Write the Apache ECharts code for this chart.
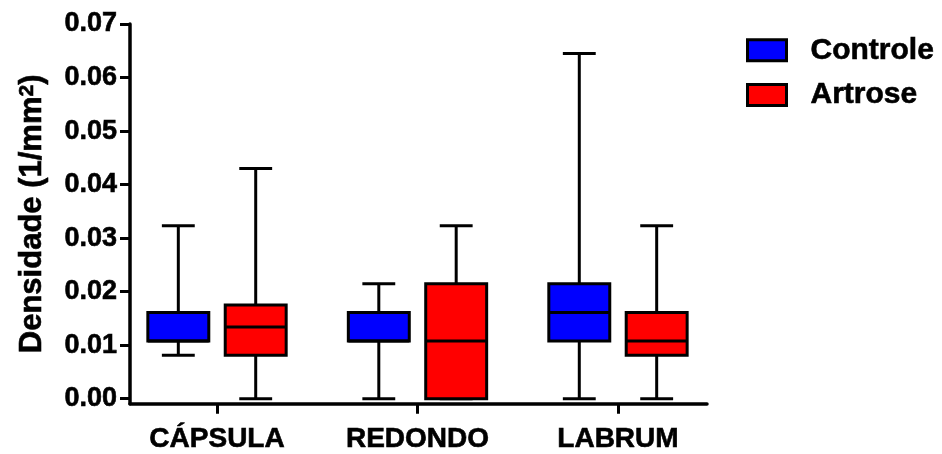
<!DOCTYPE html>
<html>
<head>
<meta charset="utf-8">
<script src="https://cdn.jsdelivr.net/npm/echarts@6/dist/echarts.min.js"></script>
<style>
html,body{margin:0;padding:0;background:#fff;}
#chart{width:942px;height:454px;}
</style>
</head>
<body>
<div id="chart"></div>
<script>
// ---- data ----
const categories = ['CÁPSULA', 'REDONDO', 'LABRUM'];
const seriesNames = ['Controle', 'Artrose'];
// each item: [min, Q1, median, Q3, max]
const controle = [
  [0.0081, 0.0108, 0.0108, 0.0161, 0.0323],
  [0.0000, 0.0108, 0.0108, 0.0161, 0.0215],
  [0.0000, 0.0108, 0.0161, 0.0215, 0.0645]
];
const artrose = [
  [0.0000, 0.0081, 0.0134, 0.0175, 0.0430],
  [0.0000, 0.0000, 0.0108, 0.0215, 0.0323],
  [0.0000, 0.0081, 0.0108, 0.0161, 0.0323]
];
const yTicks = [0, 0.01, 0.02, 0.03, 0.04, 0.05, 0.06, 0.07];
const xTicks = [0, 1, 2];

const FONT = '"Liberation Sans", Arial, Helvetica, sans-serif';
const colors = ['#0000ff', '#ff0000'];
const bold = { fontWeight: 'bold', color: '#000', fontFamily: FONT, textBorderColor: '#000', textBorderWidth: 0.6 };

function makeRender(side) {
  return function (params, api) {
    const xi = api.value(0);
    const unit = api.size([1, 0])[0];
    const cx = api.coord([xi, 0])[0] + side * 0.193 * unit;
    const half = 0.152 * unit;
    const cap = 0.082 * unit;
    const yMin = api.coord([xi, api.value(1)])[1];
    const yQ1 = api.coord([xi, api.value(2)])[1];
    const yMed = api.coord([xi, api.value(3)])[1];
    const yQ3 = api.coord([xi, api.value(4)])[1];
    const yMax = api.coord([xi, api.value(5)])[1];
    const ls = { stroke: '#000', lineWidth: 3, fill: null };
    return {
      type: 'group',
      children: [
        { type: 'line', shape: { x1: cx, y1: yQ3, x2: cx, y2: yMax }, style: ls },
        { type: 'line', shape: { x1: cx, y1: yQ1, x2: cx, y2: yMin }, style: ls },
        { type: 'line', shape: { x1: cx - cap, y1: yMax, x2: cx + cap, y2: yMax }, style: ls },
        { type: 'line', shape: { x1: cx - cap, y1: yMin, x2: cx + cap, y2: yMin }, style: ls },
        { type: 'rect', shape: { x: cx - half, y: yQ3, width: 2 * half, height: yQ1 - yQ3 },
          style: { fill: api.visual('color'), stroke: '#000', lineWidth: 3 } },
        { type: 'line', shape: { x1: cx - half, y1: yMed, x2: cx + half, y2: yMed }, style: ls }
      ]
    };
  };
}

function toData(arr) {
  return arr.map((v, i) => [i].concat(v));
}

const chart = echarts.init(document.getElementById('chart'), null, { renderer: 'canvas' });
chart.setOption({
  animation: false,
  backgroundColor: '#fff',
  grid: { left: 130, right: 235, top: 24, bottom: 49, containLabel: false },
  legend: {
    orient: 'vertical',
    left: 746,
    top: 35,
    padding: 0,
    icon: 'rect',
    itemWidth: 39,
    itemHeight: 21,
    itemGap: 14,
    selectedMode: false,
    textStyle: Object.assign({ fontSize: 30, lineHeight: 30, padding: [0, 0, 0, 19] }, bold),
    data: [
      { name: seriesNames[0], itemStyle: { color: colors[0], borderColor: '#000', borderWidth: 3 } },
      { name: seriesNames[1], itemStyle: { color: colors[1], borderColor: '#000', borderWidth: 3 } }
    ]
  },
  xAxis: {
    type: 'value',
    min: -0.434,
    max: 2.444,
    splitLine: { show: false },
    axisLine: { show: true, onZero: false, lineStyle: { color: '#000', width: 3.5 } },
    axisTick: { show: true, customValues: xTicks, length: 10, lineStyle: { color: '#000', width: 3 } },
    axisLabel: Object.assign({
      customValues: xTicks,
      formatter: v => categories[Math.round(v)],
      fontSize: 28, margin: 22
    }, bold)
  },
  yAxis: {
    type: 'value',
    min: -0.00093,
    max: 0.07,
    splitLine: { show: false },
    axisLine: { show: true, onZero: false, lineStyle: { color: '#000', width: 3.5 } },
    axisTick: { show: true, customValues: yTicks, length: 10, lineStyle: { color: '#000', width: 3 } },
    axisLabel: Object.assign({
      customValues: yTicks,
      formatter: v => v.toFixed(2),
      fontSize: 27, margin: 13
    }, bold),
    name: '{t|Densidade (1/mm}{s|2}{t|)}',
    nameLocation: 'middle',
    nameRotate: 90,
    nameGap: 82,
    nameTextStyle: {
      rich: {
        t: Object.assign({ fontSize: 31 }, bold),
        s: Object.assign({ fontSize: 21, verticalAlign: 'top' }, bold)
      }
    }
  },
  series: [
    {
      name: seriesNames[0], type: 'custom', itemStyle: { color: colors[0] },
      renderItem: makeRender(-1),
      encode: { x: 0, y: [1, 2, 3, 4, 5] },
      data: toData(controle)
    },
    {
      name: seriesNames[1], type: 'custom', itemStyle: { color: colors[1] },
      renderItem: makeRender(1),
      encode: { x: 0, y: [1, 2, 3, 4, 5] },
      data: toData(artrose)
    }
  ]
});
</script>
</body>
</html>
